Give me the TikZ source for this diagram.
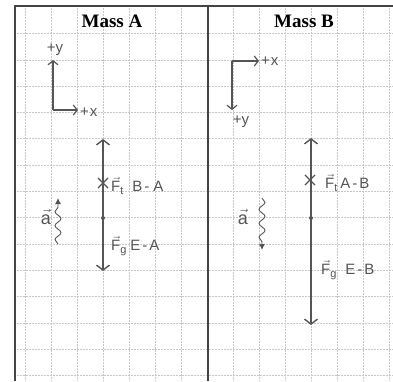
\documentclass[tikz,border=0pt]{standalone}
\usepackage{fontspec}
\setmainfont{Liberation Serif}
\newfontfamily\handfont{Liberation Sans}
\usetikzlibrary{arrows.meta,decorations.pathmorphing,shapes.misc}
\definecolor{ink}{HTML}{555555}
\definecolor{gridc}{HTML}{C8C8C8}
\newcommand\vecsym[1]{$\vec{\mbox{#1}}$}
\newcommand\vecF[1]{\vecsym{F}\raisebox{-3pt}{\fontsize{11}{12}\selectfont #1}}
\newcommand\hs[1]{\hspace{#1pt}}
\begin{document}
\begin{tikzpicture}[x=1pt,y=-1pt,
  gridline/.style={gridc,densely dotted,line width=0.5pt},
  frame/.style={ink!80!black,line width=1.3pt},
  title/.style={font=\fontsize{19}{22}\selectfont\bfseries,text=black,inner sep=0pt},
  axis/.style={ink,line width=1.2pt,-{Straight Barb[length=4pt,width=10pt]}},
  force/.style={ink,line width=1.4pt,-{Straight Barb[length=5pt,width=13pt]}},
  hand/.style={font=\handfont\fontsize{15}{17}\selectfont,text=ink,inner sep=0pt},
  flab/.style={font=\handfont\fontsize{15}{17}\selectfont,text=ink,inner sep=0pt,anchor=west},
  asym/.style={font=\handfont\fontsize{18}{20}\selectfont,text=ink,inner sep=0pt},
  crossmark/.style={cross out,draw=ink,line width=1.1pt,minimum size=9pt,inner sep=0pt},
  accel/.style={ink,line width=0.9pt,decorate,decoration={snake,amplitude=3pt,segment length=14pt,post length=5pt},-{Latex[length=6pt,width=6pt]}}
]
\useasboundingbox (0,0) rectangle (393,381);
% grid
\foreach \x in {25,51,...,389} \draw[gridline] (\x,6) -- (\x,381);
\foreach \k in {0,...,13} \draw[gridline] (15,33.5+26.3*\k) -- (393,33.5+26.3*\k);
% frame
\draw[frame] (15,381) -- (15,6) -- (393,6);
\draw[frame] (208,6) -- (208,381);
% titles
\node[title] (ta) at (112,21) {Mass A};
\node[title] (tb) at (304,21) {Mass B};

% ---- Mass A ----
\coordinate (oa) at (53,110);
\coordinate (ya) at (53,60);
\coordinate (xa) at (78,110);
\draw[axis] (oa) -- (ya);
\draw[axis] (oa) -- (xa);
\node[hand] (lya) at (55,50) {+y};
\node[hand,anchor=west] (lxa) at (80,112) {+\hs{1}x};

\coordinate (topa) at (103,139);
\coordinate (bota) at (103,271);
\coordinate (dota) at (103,218);
\draw[force] (dota) -- (topa);
\draw[force] (dota) -- (bota);
\node[crossmark] (xa1) at (103,183) {};
\fill[ink] (dota) circle (2pt);
\node[flab] (fta) at (111,186) {\vecF{t}\hs{9}B\hs{2}-\hs{4}A};
\node[flab] (fga) at (111,246) {\vecF{g}\hs{4}E\hs{2}-\hs{2}A};

\coordinate (aas) at (58,244);
\coordinate (aae) at (58,198);
\draw[accel] (aas) -- (aae);
\node[asym] (acca) at (46,217) {\vecsym{a}};

% ---- Mass B ----
\coordinate (ob) at (232,61);
\coordinate (xb) at (259,61);
\coordinate (yb) at (232,110);
\draw[axis] (ob) -- (xb);
\draw[axis] (ob) -- (yb);
\node[hand,anchor=west] (lxb) at (261,61) {+\hs{1}x};
\node[hand] (lyb) at (241,122) {+y};

\coordinate (topb) at (311,138);
\coordinate (botb) at (311,325);
\coordinate (dotb) at (311,218);
\draw[force] (dotb) -- (topb);
\draw[force] (dotb) -- (botb);
\node[crossmark] (xb1) at (310,180) {};
\fill[ink] (dotb) circle (2pt);
\node[flab] (ftb) at (325,183) {\vecF{t}\hs{3}A\hs{2}-\hs{2}B};
\node[flab] (fgb) at (321,270) {\vecF{g}\hs{9}E\hs{2}-\hs{2}B};

\coordinate (abs) at (262,198);
\coordinate (abe) at (262,250);
\draw[accel] (abs) -- (abe);
\node[asym] (accb) at (243,217) {\vecsym{a}};
\end{tikzpicture}
\end{document}
